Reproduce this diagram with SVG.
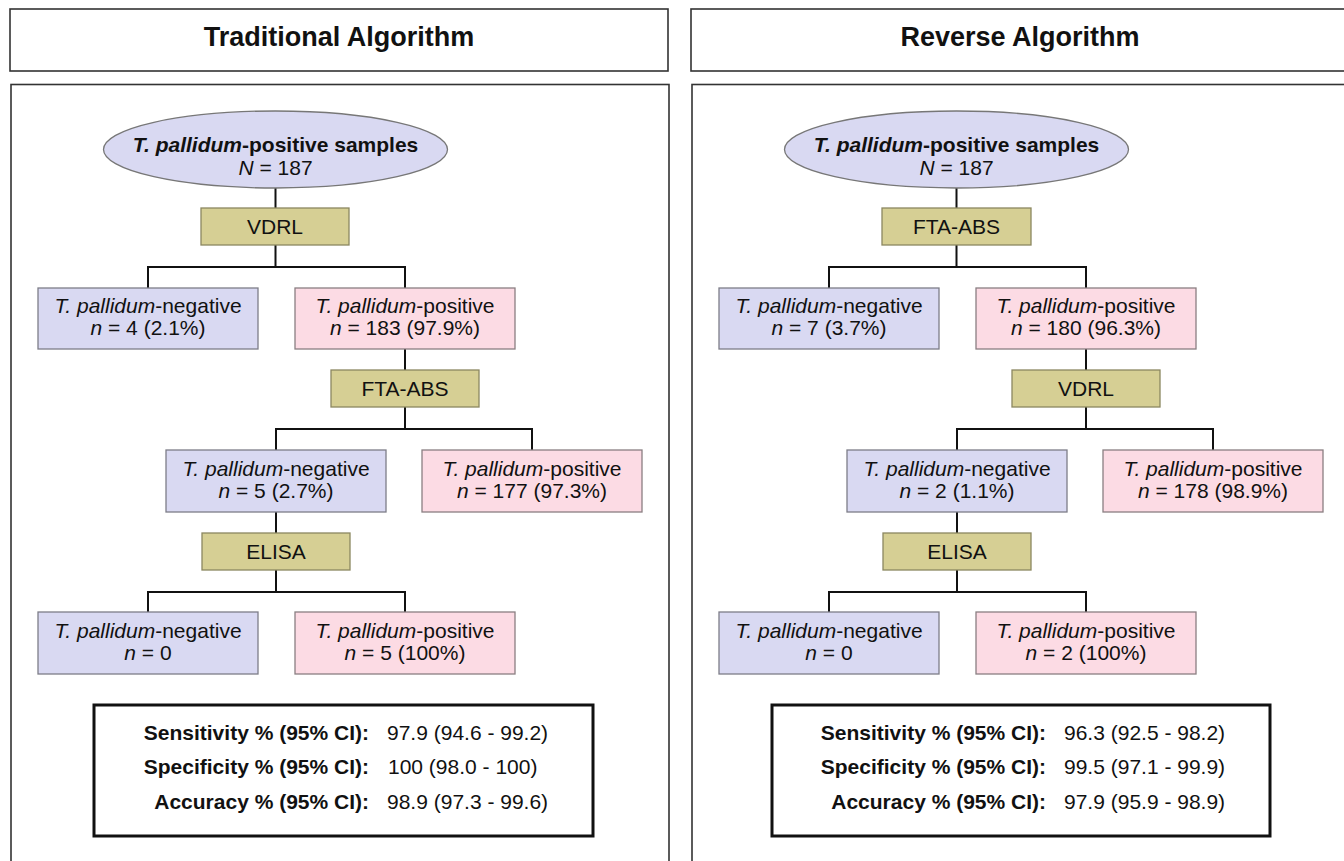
<svg xmlns="http://www.w3.org/2000/svg" width="1344" height="861" viewBox="0 0 1344 861">
<style>
  text { font-family: "Liberation Sans", Arial, sans-serif; font-size: 21px; fill: #111; }
  .title { font-size: 27px; font-weight: bold; text-anchor: middle; }
  .c { text-anchor: middle; }
  .b { font-weight: bold; }
  .i { font-style: italic; }
  .lab { font-weight: bold; text-anchor: end; }
  .frame { fill: #fff; stroke: #333; stroke-width: 1.6; }
  .ell { fill: #d9d9f2; stroke: #777; stroke-width: 1.3; }
  .test { fill: #d6cf94; stroke: #8b8760; stroke-width: 1.3; }
  .neg { fill: #d9d9f2; stroke: #7d7d88; stroke-width: 1.3; }
  .pos { fill: #fcdbe4; stroke: #8a7f82; stroke-width: 1.3; }
  .stats { fill: #fff; stroke: #111; stroke-width: 3; }
  .conn { fill: none; stroke: #111; stroke-width: 2; }
</style>
<rect width="1344" height="861" fill="#fff"/>

<!-- Panel frames -->
<g id="panel-left">
  <rect class="frame" x="10" y="9" width="658" height="62"/>
  <text class="title" x="339" y="46">Traditional Algorithm</text>
  <rect class="frame" x="11" y="84.5" width="658" height="790"/>
</g>
<g id="panel-right">
  <rect class="frame" x="691" y="9" width="660" height="62"/>
  <text class="title" x="1020" y="46">Reverse Algorithm</text>
  <rect class="frame" x="692" y="84.5" width="660" height="790"/>
</g>

<!-- Connectors -->
<g id="connectors">
  <!-- left -->
  <path class="conn" d="M275.5 188 V208"/>
  <path class="conn" d="M275.5 245 V267 M148 267 H405 M148 266 V288 M405 266 V288"/>
  <path class="conn" d="M405 349 V370"/>
  <path class="conn" d="M405 407 V429 M276 429 H532 M276 428 V450 M532 428 V450"/>
  <path class="conn" d="M276 512 V533"/>
  <path class="conn" d="M276 570 V592 M148 592 H405 M148 591 V612 M405 591 V612"/>
  <!-- right -->
  <path class="conn" d="M956.5 188 V208"/>
  <path class="conn" d="M956.5 245 V267 M829 267 H1086 M829 266 V288 M1086 266 V288"/>
  <path class="conn" d="M1086 349 V370"/>
  <path class="conn" d="M1086 407 V429 M957 429 H1213 M957 428 V450 M1213 428 V450"/>
  <path class="conn" d="M957 512 V533"/>
  <path class="conn" d="M957 570 V592 M829 592 H1086 M829 591 V612 M1086 591 V612"/>
</g>

<!-- Left panel nodes -->
<g id="L-start">
  <ellipse class="ell" cx="275.5" cy="149.5" rx="172" ry="38.5"/>
  <text class="c b" x="275.5" y="152"><tspan class="i">T. pallidum</tspan>-positive samples</text>
  <text class="c" x="275.5" y="175"><tspan class="i">N</tspan> = 187</text>
</g>
<g id="L-vdrl">
  <rect class="test" x="201" y="208" width="148" height="37"/>
  <text class="c" x="275" y="234">VDRL</text>
</g>
<g id="L-neg1">
  <rect class="neg" x="38" y="288" width="220" height="61"/>
  <text class="c" x="148" y="313"><tspan class="i">T. pallidum</tspan>-negative</text>
  <text class="c" x="148" y="335"><tspan class="i">n</tspan> = 4 (2.1%)</text>
</g>
<g id="L-pos1">
  <rect class="pos" x="295" y="288" width="220" height="61"/>
  <text class="c" x="405" y="313"><tspan class="i">T. pallidum</tspan>-positive</text>
  <text class="c" x="405" y="335"><tspan class="i">n</tspan> = 183 (97.9%)</text>
</g>
<g id="L-fta">
  <rect class="test" x="331" y="370" width="148" height="37"/>
  <text class="c" x="405" y="396">FTA-ABS</text>
</g>
<g id="L-neg2">
  <rect class="neg" x="166" y="450" width="220" height="62"/>
  <text class="c" x="276" y="476"><tspan class="i">T. pallidum</tspan>-negative</text>
  <text class="c" x="276" y="498"><tspan class="i">n</tspan> = 5 (2.7%)</text>
</g>
<g id="L-pos2">
  <rect class="pos" x="422" y="450" width="220" height="62"/>
  <text class="c" x="532" y="476"><tspan class="i">T. pallidum</tspan>-positive</text>
  <text class="c" x="532" y="498"><tspan class="i">n</tspan> = 177 (97.3%)</text>
</g>
<g id="L-elisa">
  <rect class="test" x="202" y="533" width="148" height="37"/>
  <text class="c" x="276" y="559">ELISA</text>
</g>
<g id="L-neg3">
  <rect class="neg" x="38" y="612" width="220" height="62"/>
  <text class="c" x="148" y="638"><tspan class="i">T. pallidum</tspan>-negative</text>
  <text class="c" x="148" y="660"><tspan class="i">n</tspan> = 0</text>
</g>
<g id="L-pos3">
  <rect class="pos" x="295" y="612" width="220" height="62"/>
  <text class="c" x="405" y="638"><tspan class="i">T. pallidum</tspan>-positive</text>
  <text class="c" x="405" y="660"><tspan class="i">n</tspan> = 5 (100%)</text>
</g>
<g id="L-stats">
  <rect class="stats" x="94" y="705" width="499" height="131"/>
  <text class="lab" x="369" y="740">Sensitivity % (95% CI):</text>
  <text x="387" y="740">97.9 (94.6 - 99.2)</text>
  <text class="lab" x="369" y="774">Specificity % (95% CI):</text>
  <text x="388" y="774">100 (98.0 - 100)</text>
  <text class="lab" x="369" y="809">Accuracy % (95% CI):</text>
  <text x="387" y="809">98.9 (97.3 - 99.6)</text>
</g>

<!-- Right panel nodes -->
<g id="R-start">
  <ellipse class="ell" cx="956.5" cy="149.5" rx="172" ry="38.5"/>
  <text class="c b" x="956.5" y="152"><tspan class="i">T. pallidum</tspan>-positive samples</text>
  <text class="c" x="956.5" y="175"><tspan class="i">N</tspan> = 187</text>
</g>
<g id="R-fta">
  <rect class="test" x="882" y="208" width="149" height="37"/>
  <text class="c" x="956.5" y="234">FTA-ABS</text>
</g>
<g id="R-neg1">
  <rect class="neg" x="719" y="288" width="220" height="61"/>
  <text class="c" x="829" y="313"><tspan class="i">T. pallidum</tspan>-negative</text>
  <text class="c" x="829" y="335"><tspan class="i">n</tspan> = 7 (3.7%)</text>
</g>
<g id="R-pos1">
  <rect class="pos" x="976" y="288" width="220" height="61"/>
  <text class="c" x="1086" y="313"><tspan class="i">T. pallidum</tspan>-positive</text>
  <text class="c" x="1086" y="335"><tspan class="i">n</tspan> = 180 (96.3%)</text>
</g>
<g id="R-vdrl">
  <rect class="test" x="1012" y="370" width="148" height="37"/>
  <text class="c" x="1086" y="396">VDRL</text>
</g>
<g id="R-neg2">
  <rect class="neg" x="847" y="450" width="220" height="62"/>
  <text class="c" x="957" y="476"><tspan class="i">T. pallidum</tspan>-negative</text>
  <text class="c" x="957" y="498"><tspan class="i">n</tspan> = 2 (1.1%)</text>
</g>
<g id="R-pos2">
  <rect class="pos" x="1103" y="450" width="220" height="62"/>
  <text class="c" x="1213" y="476"><tspan class="i">T. pallidum</tspan>-positive</text>
  <text class="c" x="1213" y="498"><tspan class="i">n</tspan> = 178 (98.9%)</text>
</g>
<g id="R-elisa">
  <rect class="test" x="883" y="533" width="148" height="37"/>
  <text class="c" x="957" y="559">ELISA</text>
</g>
<g id="R-neg3">
  <rect class="neg" x="719" y="612" width="220" height="62"/>
  <text class="c" x="829" y="638"><tspan class="i">T. pallidum</tspan>-negative</text>
  <text class="c" x="829" y="660"><tspan class="i">n</tspan> = 0</text>
</g>
<g id="R-pos3">
  <rect class="pos" x="976" y="612" width="220" height="62"/>
  <text class="c" x="1086" y="638"><tspan class="i">T. pallidum</tspan>-positive</text>
  <text class="c" x="1086" y="660"><tspan class="i">n</tspan> = 2 (100%)</text>
</g>
<g id="R-stats">
  <rect class="stats" x="772" y="705" width="498" height="131"/>
  <text class="lab" x="1046" y="740">Sensitivity % (95% CI):</text>
  <text x="1064" y="740">96.3 (92.5 - 98.2)</text>
  <text class="lab" x="1046" y="774">Specificity % (95% CI):</text>
  <text x="1064" y="774">99.5 (97.1 - 99.9)</text>
  <text class="lab" x="1046" y="809">Accuracy % (95% CI):</text>
  <text x="1064" y="809">97.9 (95.9 - 98.9)</text>
</g>
</svg>
